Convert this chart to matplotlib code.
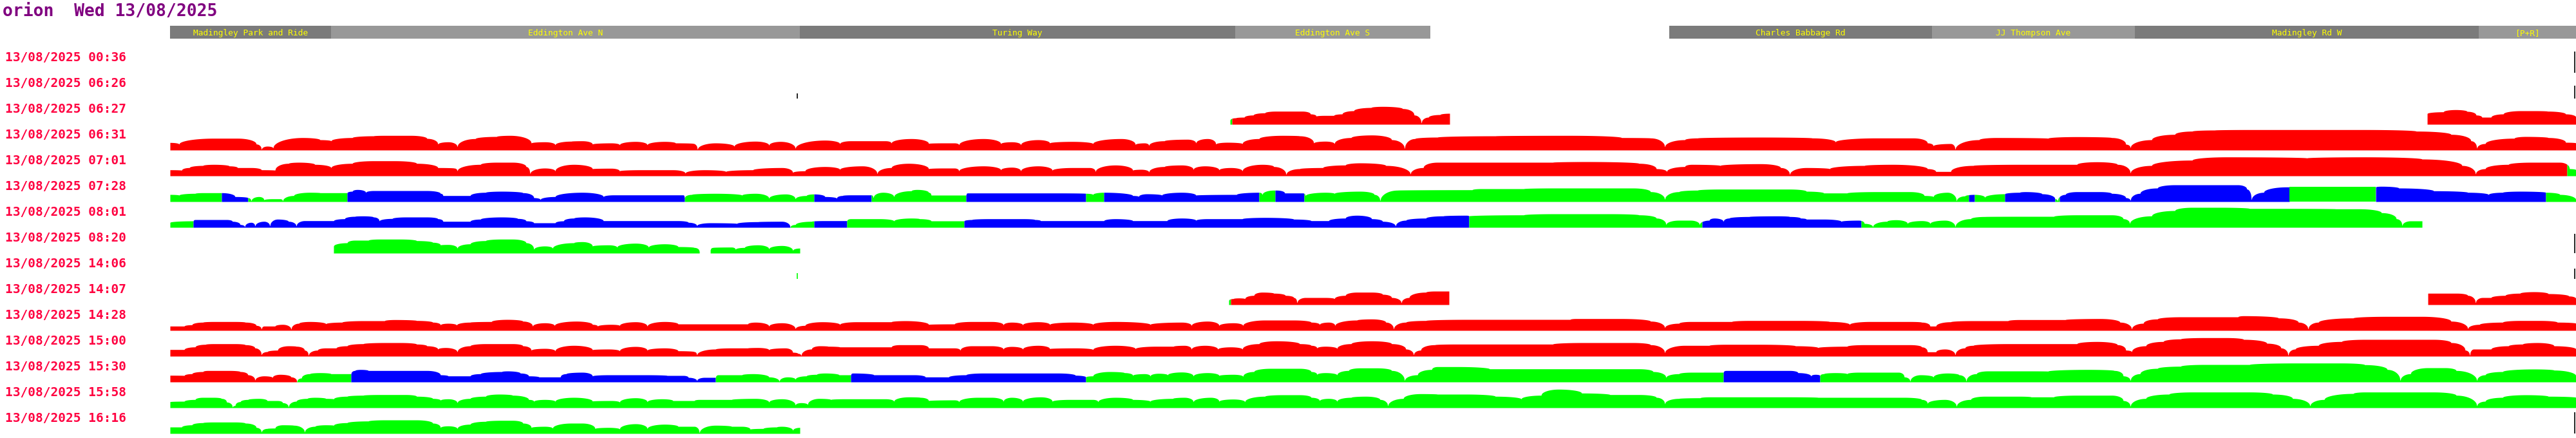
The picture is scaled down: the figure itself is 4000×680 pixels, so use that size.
import numpy as np
import matplotlib
matplotlib.use("Agg")
import matplotlib.pyplot as plt
from matplotlib.patches import Rectangle

# ---------------- data ----------------
title = "orion  Wed 13/08/2025"

roads = ["Madingley Park and Ride", "Eddington Ave N", "Turing Way", "Eddington Ave S",
         "Charles Babbage Rd", "JJ Thompson Ave", "Madingley Rd W", "[P+R]"]
road_start = [264, 514, 1242, 1918, 2592, 3000, 3315, 3849]
road_end = [514, 1242, 1918, 2221, 3000, 3315, 3849, 4000]

times = ["13/08/2025 00:36", "13/08/2025 06:26", "13/08/2025 06:27", "13/08/2025 06:31",
         "13/08/2025 07:01", "13/08/2025 07:28", "13/08/2025 08:01", "13/08/2025 08:20",
         "13/08/2025 14:06", "13/08/2025 14:07", "13/08/2025 14:28", "13/08/2025 15:00",
         "13/08/2025 15:30", "13/08/2025 15:58", "13/08/2025 16:16"]

# profiles: (position along route, speed) key points
p0627a = [(1910,6.7),(1919,10),(1932,11),(1946,14.3),(1964,17.7),(1981,20.3),(2022,20.3),(2035,16),(2044,12.7),
          (2057,13.7),(2071,13.7),(2084,16),(2102,21),(2129,26),(2147,27.7),(2178,24.3),(2196,14.3),(2207,1.7),
          (2218,11),(2236,15),(2251,17)]
c0627a = [(1910,'G'),(1913,'R')]
p0627b = [(3769,16.7),(3794,19.3),(3813,22.7),(3831,20),(3845,14.3),(3854,11),(3868,11),(3887,16),(3914,21),
          (3937,21),(3956,20.3),(3984,16),(4000,11)]

p0631 = [(264,11.7),(278,9.3),(332,18.3),(369,18.3),(398,9.3),(406,1),(415,6),(424,3.3),(470,19.3),(497,16),
         (514,14.3),(547,19.3),(580,22),(597,22.7),(638,22.7),(663,18),(680,9.3),(696,12.7),(710,5.3),(738,17.7),
         (771,21),(792,22.7),(825,11),(846,12.7),(862,8.3),(887,13.7),(904,14.3),(920,9.3),(949,11),(962,8.3),
         (987,13.3),(1005,8.3),(1032,13.3),(1049,11),(1076,10.3),(1083,1),(1111,11),(1140,6),(1173,13.7),
         (1194,7.7),(1212,13.3),(1235,2.7),(1281,15.3),(1304,10),(1321,14.3),(1375,14.3),(1384,11),(1415,17.7),
         (1442,10.3),(1464,11),(1482,11),(1489,8.3),(1527,17.7),(1554,10),(1571,12.7),(1585,8.3),(1612,16),
         (1630,11),(1665,13.3),(1697,10),(1741,17.7),(1763,8.7),(1777,11),(1784,7.3),(1808,14.3),(1844,16.7),
         (1857,11),(1875,17.7),(1888,9.3),(1906,12),(1929,10),(1955,17.7),(1991,22.7),(2018,22),(2040,11),
         (2058,13.7),(2072,10),(2098,19.3),(2130,23.3),(2161,16),(2181,2),(2197,17.7),(2232,20),(2322,22),
         (2438,22.7),(2518,19.3),(2563,18.7),(2585,5),(2616,16),(2636,18.7),(2734,20),(2814,18.7),(2850,12.7),
         (2913,18.7),(2971,18.7),(2993,11),(3002,6.7),(3029,10),(3036,1),(3073,16),(3100,19.3),(3180,18.3),
         (3225,20.7),(3279,19.3),(3301,9),(3308,3.7),(3341,16),(3377,24.3),(3404,29.3),(3439,31),(3493,31.7),
         (3672,31.7),(3752,29.3),(3806,24.3),(3837,14.3),(3846,2.7),(3859,10),(3904,18.3),(3922,21),(3957,19.3),
         (3984,12),(4000,11)]

p0701 = [(264,9.3),(282,8.7),(294,12.7),(315,16),(332,17.7),(356,15.3),(369,12.7),(390,12.7),(406,9.3),(427,8.7),
         (448,19.3),(464,21),(489,17.7),(514,12.7),(547,19.3),(580,23.3),(613,23.3),(647,19.3),(680,12.7),(705,12),
         (710,7.7),(746,17.7),(771,21),(796,21),(817,14.3),(823,3.3),(846,12),(862,7.7),(891,17.7),(920,11),
         (949,11.7),(962,7.7),(995,9.3),(1045,9.3),(1064,4.3),(1094,9.3),(1127,6.7),(1169,9.3),(1214,12.7),
         (1231,5.3),(1250,7.7),(1281,14.3),(1304,10),(1339,15.3),(1362,3.3),(1384,12.7),(1411,19.3),(1442,11),
         (1464,12),(1482,12),(1489,7.7),(1527,15.3),(1554,9.3),(1571,13.3),(1585,7.7),(1612,15.3),(1634,8.7),
         (1665,12.7),(1692,12.7),(1701,6.7),(1732,16.7),(1759,8.7),(1772,10),(1784,6),(1808,14.3),(1835,16.7),
         (1853,10),(1871,15.3),(1893,9.3),(1911,12.7),(1929,7.7),(1960,17.7),(1978,14.3),(1997,2),(2018,11),
         (2054,12.7),(2089,16.7),(2112,20),(2152,16),(2190,2.7),(2210,12.7),(2232,21),(2411,21),(2464,22),
         (2545,19.3),(2572,11),(2588,6.7),(2616,14.3),(2627,17.7),(2671,16),(2734,18.7),(2765,12.7),(2779,2),
         (2805,12.7),(2841,11),(2895,16),(2939,17.7),(2993,11),(3006,6.7),(3029,6.7),(3064,16),(3136,17.7),
         (3225,17.7),(3256,21.7),(3288,17.7),(3308,4.3),(3341,16),(3404,24.3),(3457,29.3),(3582,27.7),(3672,29.3),
         (3761,26),(3823,16),(3844,2.7),(3859,11),(3895,17.7),(3931,21),(3975,21),(3990,11),(4000,9.3)]
c0701 = [(264,'R'),(3986,'G')]

p0728 = [(264,11),(278,10),(303,12.7),(315,13.7),(344,13.7),(365,7.7),(385,6),(390,1),(402,7.7),(410,2.7),
         (423,4.3),(435,4.3),(439,1),(456,9.3),(481,14.3),(497,13.7),(539,13.7),(547,16),(555,18.7),(568,14.3),
         (580,17),(663,17),(684,12.7),(688,9.3),(730,9.3),(754,14.3),(779,16),(812,13.7),(829,6),(839,3.3),
         (862,7.7),(904,14.3),(937,7.7),(953,10.3),(1061,10.3),(1063,6),(1074,11),(1111,12.7),(1152,10),
         (1173,12.7),(1194,5.3),(1220,11.7),(1235,4.3),(1252,9.3),(1264,11.7),(1281,7.7),(1299,5.3),(1308,9.3),
         (1321,10.3),(1353,10.3),(1356,6),(1371,14.3),(1388,7.7),(1415,16.7),(1424,18.7),(1442,14.3),(1446,10),
         (1500,10),(1502,13.3),(1643,13.3),(1686,12.7),(1697,11),(1714,14.3),(1759,9.3),(1768,8),(1781,12),
         (1804,10),(1835,14.3),(1857,10),(1920,11),(1955,14.3),(1960,11),(1978,17.7),(1982,17.7),(1995,13.3),
         (2023,13.3),(2027,9.3),(2058,14.3),(2072,12.7),(2112,16),(2134,11),(2143,1),(2170,17.7),(2286,18.3),
         (2300,20),(2366,20),(2411,21),(2536,21),(2563,15.3),(2585,3.3),(2607,15.3),(2636,17.7),(2671,19.3),
         (2779,19.3),(2805,16),(2832,13.3),(2868,13.3),(2913,15.3),(2966,15.3),(2988,9.3),(3002,7.7),(3024,14.3),
         (3038,1),(3051,8.7),(3066,11),(3082,6.7),(3113,12),(3136,14.3),(3145,15.3),(3171,12),(3191,4.3),
         (3195,1),(3207,11),(3225,15.3),(3261,15.3),(3279,12.7),(3301,6),(3308,1.7),(3323,12.7),(3350,21),
         (3377,26),(3475,26),(3489,19.3),(3496,2.7),(3515,14.3),(3551,22.7),(3689,22.7),(3698,23.7),(3725,21),
         (3779,16.7),(3832,14.3),(3864,11),(3886,14.3),(3913,16),(3953,14.3),(3975,11),(4000,2.7)]
c0728 = [(264,'G'),(344,'B'),(385,'G'),(539,'B'),(1063,'G'),(1264,'B'),(1353,'G'),(1500,'B'),(1686,'G'),
         (1714,'B'),(1955,'G'),(1980,'B'),(2025,'G'),(3057,'B'),(3066,'G'),(3113,'B'),(3191,'G'),(3198,'B'),
         (3555,'G'),(3689,'B'),(3953,'G')]

p0801 = [(264,7.7),(300,10),(303,12),(352,12),(361,9.3),(373,4.3),(380,1),(390,7.7),(396,2),(410,9.3),(419,2),
         (431,12.7),(448,9.3),(460,2),(473,10.3),(518,10.3),(535,13.3),(551,17),(564,17.7),(580,16),(589,10),
         (609,13.7),(630,16),(663,16),(680,13.3),(688,9.3),(730,9.3),(746,12.7),(779,16),(804,13.7),(817,10),
         (829,7),(862,7),(875,10),(891,14.3),(908,16),(937,10.3),(1053,10.3),(1069,7.7),(1082,2.7),(1103,7),
         (1144,6),(1177,8.7),(1214,9.3),(1227,0.5),(1235,4.3),(1260,9.3),(1280,10.3),(1315,10.3),(1321,13.3),
         (1366,13.3),(1388,10),(1415,14.3),(1428,13.3),(1446,10),(1497,10),(1509,12),(1536,13.3),(1589,13.3),
         (1607,12),(1616,10.3),(1714,10.3),(1732,13.3),(1759,10.3),(1812,10.3),(1835,14.3),(1857,11),(1875,13.3),
         (1929,13.3),(1964,15.3),(2009,12.7),(2036,10.3),(2063,10.3),(2089,14.3),(2107,18.7),(2130,13.3),
         (2147,9.3),(2167,2),(2183,11),(2214,14.3),(2241,17.7),(2277,18.7),(2281,17.7),(2366,19.3),(2411,21),
         (2500,21),(2545,19.3),(2572,14.3),(2587,4.3),(2607,11),(2625,11),(2639,4.3),(2654,11),(2662,14.3),
         (2676,9.3),(2685,14.3),(2716,16.7),(2760,17.7),(2779,16.7),(2796,14.3),(2805,12.7),(2832,12.7),
         (2859,9.3),(2886,11),(2895,6),(2908,1),(2930,9.3),(2944,11.7),(2962,6),(2984,10.3),(2997,6),(3020,11),
         (3036,1),(3060,13.3),(3082,16.7),(3136,17),(3189,17),(3225,19.3),(3279,19.3),(3297,13.3),(3307,6),
         (3341,17.7),(3377,26),(3404,31),(3448,31),(3493,29.3),(3538,29.3),(3627,28.7),(3663,28.7),(3698,22.7),
         (3721,13.3),(3730,2.7),(3743,10),(3761,10)]
c0801 = [(264,'G'),(300,'B'),(1227,'G'),(1264,'B'),(1315,'G'),(1497,'B'),(2281,'G'),(2643,'B'),(2890,'G')]

p0820a = [(518,11),(539,16),(551,20),(572,20),(589,21.7),(622,21.7),(647,19.3),(672,16.7),(684,12.7),(696,13.3),
          (710,7.7),(730,14.3),(754,19.3),(779,21.7),(796,21.7),(817,16),(829,6),(846,11),(858,7.7),(891,16),
          (904,17.7),(920,11),(945,12.7),(958,9.3),(987,15.3),(1007,9.3),(1032,14.3),(1053,10),(1078,8.7),
          (1086,2.7)]
p0820b = [(1103,5),(1107,8.7),(1136,9.3),(1142,6),(1156,8.7),(1177,12.7),(1194,6.7),(1214,11.7),(1231,4.3),
          (1242,7.7)]

p1407a = [(1908,6.7),(1915,9.3),(1924,10.3),(1933,9.3),(1947,14.3),(1960,19.3),(1978,17.7),(1996,14.3),(2009,11),
          (2014,2.7),(2027,11),(2058,11),(2072,9.3),(2089,14.3),(2107,19.3),(2130,19.3),(2147,16),(2161,11),
          (2176,2.7),(2188,11),(2214,19.3),(2228,21),(2250,21)]
c1407a = [(1908,'G'),(1911,'R')]
p1407b = [(3770,17.7),(3815,17.7),(3832,14.3),(3844,2.7),(3855,11),(3868,11),(3890,14.3),(3913,17.7),(3935,20),
          (3957,17),(3989,13.3),(4000,9.3)]

p1428 = [(264,6.7),(286,6.7),(298,8.7),(315,12.7),(332,13.7),(365,13.7),(381,12.7),(398,7.7),(406,2),(410,6.7),
         (427,6.7),(439,9.3),(452,1.7),(464,11),(481,13.7),(506,10.3),(531,12.7),(564,15),(597,15),(613,16.7),
         (647,15.3),(672,12.7),(684,8.7),(696,11),(709,8.3),(730,12.7),(763,13.7),(788,17),(812,14.3),(827,6.7),
         (846,11.7),(861,7.7),(895,14.3),(920,9.3),(928,6.7),(949,9.3),(962,7.7),(987,13.3),(1005,6.7),
         (1032,13.7),(1053,10),(1161,10),(1173,12.7),(1194,6.7),(1214,11.7),(1235,2.7),(1250,7.7),(1277,13.3),
         (1304,9.3),(1330,13.3),(1384,13.3),(1406,15),(1442,9.3),(1482,10),(1509,13.7),(1540,13.7),(1558,8.7),
         (1571,12.7),(1588,8.7),(1612,13.3),(1630,9.3),(1665,12.7),(1697,9.3),(1732,13.7),(1786,9.3),
         (1835,12.7),(1850,7.7),(1875,14.3),(1893,7.7),(1915,11.7),(1930,7.7),(1964,16),(2009,16),(2036,12.7),
         (2049,9.3),(2063,12.7),(2073,7.7),(2107,16),(2130,17.7),(2152,12.7),(2164,2),(2183,12.7),(2214,15.3),
         (2277,17),(2438,17),(2447,18.3),(2518,18.3),(2563,14.3),(2585,4.3),(2607,11),(2625,13.7),(2689,13.7),
         (2716,15.3),(2796,15.3),(2841,13.7),(2872,9.3),(2904,13.7),(2966,13.7),(2984,12.7),(2997,6.7),
         (3006,6.7),(3029,13.3),(3064,15),(3118,15),(3136,16.7),(3207,16.7),(3261,18.3),(3292,12.7),(3310,2),
         (3328,11),(3350,17.7),(3386,21),(3475,21),(3484,22.7),(3538,19.3),(3569,12.7),(3584,2),(3600,12.7),
         (3654,19.3),(3707,21.7),(3761,21.7),(3806,14.3),(3832,2.7),(3850,9.3),(3886,12.7),(3913,15.3),
         (3944,15.3),(3971,12.7),(4000,11)]

p1500 = [(264,10.3),(286,10.3),(303,14.3),(319,18.3),(332,19.3),(365,19.3),(381,17.7),(396,12.7),(406,2),(415,7),
         (431,9.3),(448,16),(460,15.3),(473,9.3),(479,1),(493,9.3),(506,12.7),(522,12.7),(539,16),(564,19.3),
         (597,21),(622,21),(647,18.7),(663,16),(680,11),(692,13.3),(710,6.7),(730,16),(754,19.3),(796,19.3),
         (812,16),(825,9.3),(846,12),(862,8.3),(891,16.7),(920,10),(945,11),(962,8.3),(987,15),(1005,9.3),
         (1032,12.7),(1053,8.3),(1078,7),(1082,2),(1111,11),(1136,12.7),(1161,12.7),(1177,13.3),(1194,10),
         (1219,12.7),(1231,6),(1239,4.3),(1244,1),(1260,11),(1273,16),(1286,15.3),(1304,14.3),(1384,14.3),
         (1397,17.7),(1429,17.7),(1442,12.7),(1482,12.7),(1491,9.3),(1509,16),(1540,16),(1558,11),(1571,15),
         (1588,11),(1612,16.7),(1630,11.7),(1670,12.7),(1697,10.3),(1732,16.7),(1763,11.7),(1795,15.3),
         (1822,15.3),(1839,16.7),(1850,11),(1871,16.7),(1891,11),(1911,14.3),(1929,11),(1955,19.3),(1982,23.7),
         (2018,19.3),(2036,16.7),(2045,12.7),(2058,15.3),(2076,12),(2098,19.3),(2130,23.7),(2161,19.3),
         (2183,11),(2195,2),(2206,9.3),(2228,17.7),(2259,18.7),(2411,18.7),(2456,21),(2536,21),(2563,17.7),
         (2585,5.3),(2616,16.7),(2654,16.7),(2680,18.3),(2734,18.3),(2788,16),(2823,13.3),(2868,15.3),
         (2895,17.7),(2966,17.7),(2984,14.3),(2993,6.7),(3006,6.7),(3020,11),(3036,2),(3051,12.7),(3064,16.7),
         (3118,19.3),(3225,19.3),(3256,22.7),(3288,17.7),(3301,9.3),(3310,7),(3332,16),(3359,22.7),(3386,26.7),
         (3422,28.7),(3457,28.7),(3484,26),(3520,20),(3542,12.7),(3553,1),(3564,11),(3600,16.7),(3636,22.7),
         (3672,26),(3779,26),(3806,21),(3828,9.3),(3835,1),(3841,11),(3868,11),(3895,16),(3917,18.7),(3940,21),
         (3966,16),(4000,11)]

p1530 = [(264,10.3),(286,10),(298,12.7),(315,16),(323,17.7),(356,17.7),(373,16),(385,11),(396,2.7),(410,9.3),
         (423,7),(435,11.7),(452,7.7),(461,0.5),(468,6),(481,12.7),(497,14.3),(514,12.7),(545,12.7),(551,17.7),
         (560,19.3),(572,17.7),(663,17.7),(684,11),(696,9.3),(730,9.3),(746,12.7),(779,16),(788,17),(808,13.7),
         (821,9.3),(837,7.7),(870,7.7),(879,12.7),(904,15),(920,9.3),(945,11),(1003,11),(1036,10),(1061,10),
         (1069,7),(1082,2),(1094,7),(1111,7),(1115,11),(1152,11),(1169,12.7),(1194,7.7),(1210,1),(1223,7.7),
         (1235,4.3),(1252,9.3),(1268,11.7),(1281,13.7),(1303,11),(1321,11),(1324,13.7),(1357,11),(1420,11),
         (1437,7.7),(1473,7.7),(1500,11),(1527,13.7),(1643,13.7),(1670,10.3),(1686,7.7),(1697,9.3),(1723,16),
         (1746,14.3),(1759,10.3),(1777,12.7),(1786,9.3),(1799,13.3),(1813,11),(1835,15.3),(1853,9.3),
         (1875,14.3),(1893,10),(1915,11.7),(1930,8.7),(1947,16),(1973,21),(2018,21),(2036,16),(2045,11.7),
         (2058,14.3),(2076,11),(2094,17.7),(2112,21.7),(2138,21.7),(2161,17.7),(2181,2),(2201,11),(2223,19.3),
         (2232,23.7),(2264,23.7),(2313,20.3),(2545,20.3),(2567,16),(2587,7),(2607,12.7),(2627,15),(2676,15),
         (2680,17.7),(2779,17.7),(2792,14.3),(2812,9.3),(2819,11.7),(2826,10),(2832,12.7),(2850,14.3),
         (2868,12.7),(2886,15),(2948,15),(2957,7.7),(2966,1),(2982,11),(3002,7.7),(3024,13.7),(3042,11),
         (3053,1),(3069,12.7),(3087,17),(3154,17),(3180,16.7),(3243,19.3),(3283,17.7),(3297,9.3),(3308,2),
         (3323,12.7),(3350,21),(3386,24.3),(3422,27),(3493,27),(3564,29.3),(3636,29.3),(3672,26.7),(3707,19.3),
         (3727,2),(3743,12.7),(3770,22),(3797,22),(3814,17.7),(3846,2),(3859,11),(3886,16),(3935,20),
         (3966,18.3),(4000,9.3)]
c1530 = [(264,'R'),(461,'G'),(545,'B'),(1111,'G'),(1321,'B'),(1686,'G'),(2676,'B'),(2826,'G')]

p1558 = [(264,9.3),(286,10),(303,12.7),(315,16),(332,16),(344,14.3),(352,8.7),(361,1),(365,3.3),(373,9.3),
         (385,12.7),(402,14.3),(415,11),(431,11),(439,7.7),(448,1),(460,10),(477,14.3),(489,16),(506,14.3),
         (518,13.7),(539,17.7),(564,19.3),(589,20.3),(630,20.3),(647,17.7),(672,14.3),(684,11.7),(696,13.7),
         (710,7.7),(730,14.3),(754,17.7),(775,21),(796,19.3),(821,12.7),(829,10),(846,12.7),(862,10),(891,16),
         (920,10.3),(949,11),(962,8.7),(987,15.3),(1005,9.3),(1028,13.7),(1045,11),(1078,11),(1086,12.7),
         (1136,12.7),(1173,14.3),(1194,8.7),(1214,13.7),(1235,4.3),(1244,7.7),(1254,5),(1272,14.3),(1290,12.7),
         (1312,13.7),(1375,13.7),(1388,10),(1411,16.7),(1429,16),(1442,11),(1482,12),(1489,9.3),(1518,16),
         (1540,16),(1558,10),(1571,16),(1588,10),(1616,16.7),(1634,10),(1661,12.7),(1697,12.7),(1705,9.3),
         (1732,16),(1759,12.7),(1786,10),(1821,14.3),(1839,16),(1853,9.3),(1880,16),(1893,10),(1915,13.3),
         (1933,9.3),(1964,17.7),(1991,20),(2018,20),(2036,16),(2049,11),(2063,14.3),(2076,10),(2098,16),
         (2121,17.7),(2143,12.7),(2155,2.7),(2179,14.3),(2206,21.7),(2232,21),(2277,21),(2322,17.7),(2362,13.7),
         (2393,19.3),(2420,28.7),(2456,22.7),(2500,20.3),(2545,20.3),(2572,16),(2585,6),(2607,14.3),(2640,15.3),
         (2654,16.7),(2779,16.7),(2823,16),(2957,16),(2984,12.7),(2993,6.7),(3020,12.7),(3038,2),(3060,12.7),
         (3082,17.7),(3136,17.7),(3154,16.7),(3189,16.7),(3225,19.3),(3279,19.3),(3297,11),(3308,2),(3332,14.3),
         (3368,21),(3404,24.3),(3493,24.3),(3529,21),(3560,14.3),(3587,2.7),(3609,12.7),(3654,22),(3672,24.3),
         (3779,24.3),(3814,19.3),(3846,2.7),(3859,10),(3886,16),(3922,20),(3957,17.7),(4000,16)]

p1616 = [(264,10),(282,10),(298,13.3),(315,16.7),(332,17.7),(365,17.7),(381,16),(398,9.3),(406,2),(415,7.7),
         (427,8.3),(439,13.3),(456,12.7),(473,2),(489,11),(506,13.3),(518,12.7),(539,16.7),(572,19.3),(597,21),
         (647,21),(672,16),(684,9.3),(696,11.7),(710,7.7),(730,14.3),(754,18.7),(779,20.3),(796,20.3),(812,16),
         (825,9.3),(846,11),(858,8.3),(887,16),(904,16),(924,7.7),(945,9.3),(962,7),(987,15),(1005,7.7),
         (1032,14.3),(1053,11),(1078,11),(1086,1),(1111,12.7),(1136,11),(1152,11),(1165,6.7),(1185,7.7),
         (1206,10),(1214,11),(1231,5),(1242,9.3)]

# row index -> list of (profile, colour segments)
rows = {
    2: [(p0627a, c0627a), (p0627b, 'R')],
    3: [(p0631, 'R')],
    4: [(p0701, c0701)],
    5: [(p0728, c0728)],
    6: [(p0801, c0801)],
    7: [(p0820a, 'G'), (p0820b, 'G')],
    9: [(p1407a, c1407a), (p1407b, 'R')],
    10: [(p1428, 'R')],
    11: [(p1500, 'R')],
    12: [(p1530, c1530)],
    13: [(p1558, 'G')],
    14: [(p1616, 'G')],
}

# small vertical markers: (row, position, size, colour)
marks = [(0, 3998, 33, 'k'), (1, 1238, 8, 'k'), (1, 3998, 20, 'k'), (7, 3998, 30, 'k'),
         (8, 1238, 9, 'G'), (8, 3998, 16, 'k'), (14, 3998, 33, 'k')]

# ---------------- drawing ----------------
COL = {'R': '#ff0000', 'G': '#00ff00', 'B': '#0000ff', 'k': '#000000'}
W, H = 4000, 680
fig = plt.figure(figsize=(W / 100, H / 100), dpi=100)
ax = fig.add_axes([0, 0, 1, 1])
ax.set_xlim(0, W)
ax.set_ylim(H, 0)
ax.axis('off')

ROW0_BASE, ROW_STEP = 113, 40
MONO = ['DejaVu Sans Mono']


def arch_curve(pts):
    xs, hs = [], []
    for (x0, h0), (x1, h1) in zip(pts[:-1], pts[1:]):
        n = max(int(abs(x1 - x0)), 2) + 1
        t = np.linspace(0, 1, n)
        if h1 > h0:
            h = h0 + (h1 - h0) * np.sqrt(np.clip(1 - (1 - t) ** 2, 0, 1))
        elif h1 < h0:
            h = h1 + (h0 - h1) * np.sqrt(np.clip(1 - t ** 2, 0, 1))
        else:
            h = np.full_like(t, h0)
        x = x0 + (x1 - x0) * t
        if xs:
            x, h = x[1:], h[1:]
        xs.append(x)
        hs.append(h)
    return np.concatenate(xs), np.concatenate(hs)


for r, runs in rows.items():
    base = ROW0_BASE + ROW_STEP * r
    for pts, cols in runs:
        x, h = arch_curve(pts)
        if isinstance(cols, str):
            cols = [(pts[0][0], cols)]
        starts = [c[0] for c in cols] + [pts[-1][0]]
        for k, (xs0, cc) in enumerate(cols):
            a, b = max(starts[k], x[0]), min(starts[k + 1], x[-1])
            if b <= a:
                continue
            m = (x > a) & (x < b)
            xx = np.concatenate([[a], x[m], [b]])
            hh = np.concatenate([[np.interp(a, x, h)], h[m], [np.interp(b, x, h)]])
            ax.fill_between(xx, base, base - hh, color=COL[cc], linewidth=0, antialiased=False)

for r, xm, hm, cc in marks:
    base = ROW0_BASE + ROW_STEP * r
    ax.vlines(xm, base - hm, base, color=COL[cc], linewidth=1.2)

# header bar
for i, (name, s, e) in enumerate(zip(roads, road_start, road_end)):
    shade = '#7b7b7b' if i % 2 == 0 else '#989898'
    ax.add_patch(Rectangle((s, 40), e - s, 20, facecolor=shade, edgecolor='none'))
    ax.text((s + e) / 2, 55, name, color='#ffff00', fontsize=9.3, family=MONO,
            ha='center', va='baseline')

# title
ax.text(4, 25, title, color='#800080', fontsize=19, family=MONO, fontweight='bold',
        ha='left', va='baseline')

# row labels
for i, t in enumerate(times):
    ax.text(8, 95 + ROW_STEP * i, t, color='#ff0040', fontsize=14, family=MONO,
            fontweight='bold', ha='left', va='baseline')

fig.savefig('out.png', dpi=100, facecolor='white')
